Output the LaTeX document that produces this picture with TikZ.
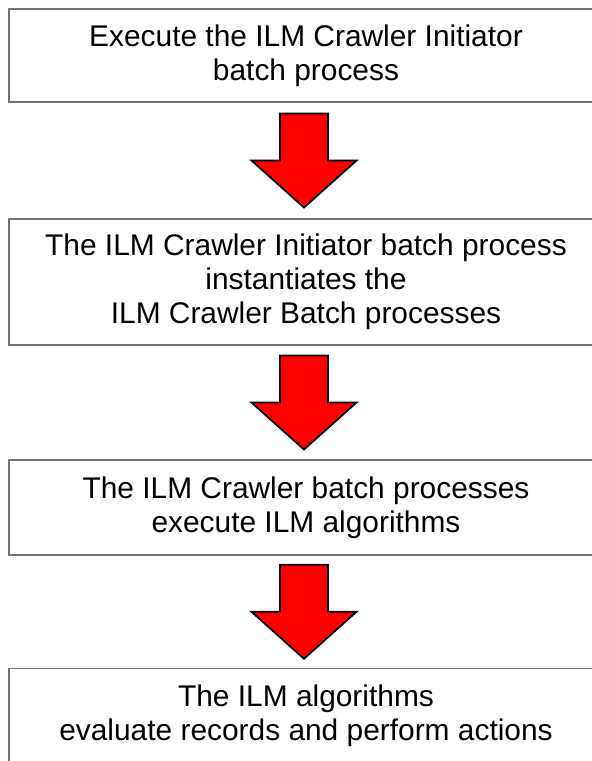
\documentclass[tikz,border=0pt]{standalone}
\usepackage{fontspec}
\setmainfont{Liberation Sans}
\usetikzlibrary{calc}
\tikzstyle{process box}=[
        draw = black!55,
        line width = 1.5bp,
        fill = white,
        minimum width = 594bp,
        inner sep = 0pt,
        align = center,
        font = \fontsize{30}{34}\selectfont
    ]
\tikzstyle{red arrow}=[
    draw = black,
    line width = 1.8bp,
    fill = red,
    line join = miter
]
% block arrow between two boxes
\newcommand{\flowarrow}[2]{%
    \path (#1.south) -- (#2.north) coordinate[midway] (m#1);
    \draw[red arrow] ($(m#1)+(-26,-47)$) -- ($(m#1)+(22,-47)$) -- ($(m#1)+(22,0)$)
        -- ($(m#1)+(50.5,0)$) -- ($(m#1)+(-2,47)$) -- ($(m#1)+(-54.5,0)$)
        -- ($(m#1)+(-26,0)$) -- cycle;}

\begin{document}
\begin{tikzpicture}[x=1bp, y=-1bp]
        \useasboundingbox (0,0) rectangle (592,761);
        \clip (0,0) rectangle (592,761);

        \node[process box, minimum height = 93bp] (1) at (306,55.5)
            {Execute the ILM Crawler Initiator\\batch process};
        \node[process box, minimum height = 126bp] (2) at (306,282)
            {The ILM Crawler Initiator batch process\\instantiates the\\ILM Crawler Batch processes};
        \node[process box, minimum height = 95bp] (3) at (306,507.5)
            {The ILM Crawler batch processes\\execute ILM algorithms};
        \node[process box, minimum height = 95bp] (4) at (306,716)
            {The ILM algorithms\\evaluate records and perform actions};

        \flowarrow{1}{2}
        \flowarrow{2}{3}
        \flowarrow{3}{4}

    \end{tikzpicture}
\end{document}
